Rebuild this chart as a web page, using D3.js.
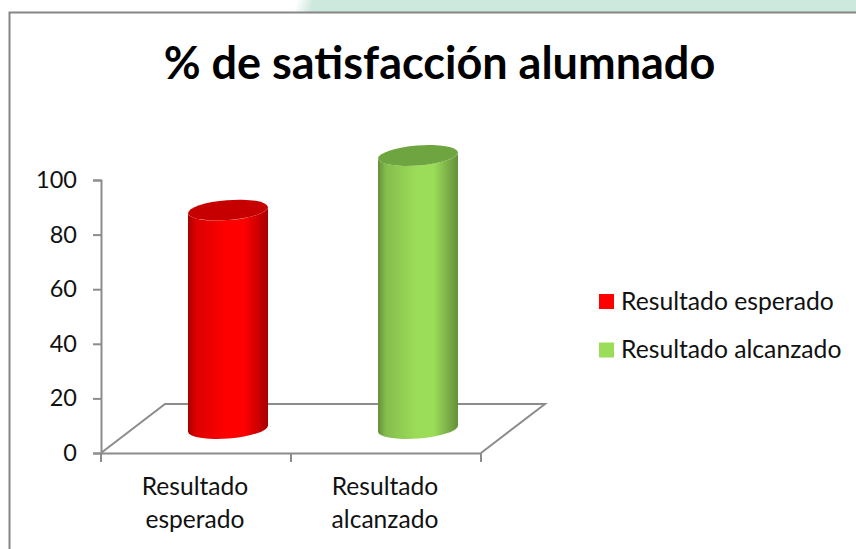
<!DOCTYPE html>
<html>
<head>
<meta charset="utf-8">
<style>
html, body { margin: 0; padding: 0; background: #fff; }
svg { display: block; }
text { font-family: Lato, "Open Sans", sans-serif; fill: #111; }
</style>
<script src="https://cdn.jsdelivr.net/npm/d3@7/dist/d3.min.js"></script>
</head>
<body>
<div id="chart"></div>
<script>
const chartTitle = '% de satisfacción alumnado';
const categories = ['Resultado esperado', 'Resultado alcanzado'];
const values = [80, 100];
const yTicks = [0, 20, 40, 60, 80, 100];
const barColors = ['#ff0000', '#9bdc58'];
const barEdges = ['#a80000', '#658f3a'];
const barTops = ['#c60000', '#6ea540'];

const width = 856;
const height = 549;

const svg = d3.select('#chart').append('svg')
    .attr('width', width)
    .attr('height', height);

const defs = svg.append('defs');
barColors.forEach((color, i) => {
    const grad = defs.append('linearGradient').attr('id', `body${i}`);
    grad.append('stop').attr('offset', '0%').attr('stop-color', barEdges[i]);
    grad.append('stop').attr('offset', '10%').attr('stop-color', d3.interpolateRgb(barEdges[i], color)(0.6));
    grad.append('stop').attr('offset', '48%').attr('stop-color', color);
    grad.append('stop').attr('offset', '70%').attr('stop-color', color);
    grad.append('stop').attr('offset', '100%').attr('stop-color', barEdges[i]);
});
const bgGrad = defs.append('linearGradient')
    .attr('id', 'bgStrip')
    .attr('gradientUnits', 'userSpaceOnUse')
    .attr('x1', 296).attr('y1', 3)
    .attr('x2', 312).attr('y2', 8);
bgGrad.append('stop').attr('offset', '0%').attr('stop-color', '#ffffff');
bgGrad.append('stop').attr('offset', '100%').attr('stop-color', '#cde8dc');

// page background strip behind the chart
svg.append('rect')
    .attr('x', 0).attr('y', 0)
    .attr('width', width).attr('height', 13)
    .attr('fill', 'url(#bgStrip)');

// chart frame, open past the window edges
svg.append('rect')
    .attr('x', 9.5).attr('y', 12.5)
    .attr('width', 860).attr('height', 550)
    .attr('fill', '#fff')
    .attr('stroke', '#868686')
    .attr('stroke-width', 2);

svg.append('text')
    .attr('x', 439.5)
    .attr('y', 79)
    .attr('text-anchor', 'middle')
    .style('font-size', '45px')
    .style('font-weight', 'bold')
    .style('fill', '#000')
    .text(chartTitle);

const x = d3.scaleBand().domain(categories).range([101, 481]);
const y = d3.scaleLinear().domain([0, 100]).range([453, 180]);

// floor depth of the 3D plot
const depthX = 64;
const depthY = -49;
const axisColor = '#8c8c8c';

svg.append('path')
    .attr('d', `M${x.range()[0]},${y(0)} l${depthX},${depthY} H${x.range()[1] + depthX} L${x.range()[1]},${y(0)}`)
    .attr('fill', 'none')
    .attr('stroke', axisColor)
    .attr('stroke-width', 2);

const yAxis = svg.append('g')
    .attr('transform', `translate(${x.range()[0]},0)`)
    .call(d3.axisLeft(y).tickValues(yTicks).tickSize(8).tickPadding(16).tickFormat(d3.format('d')));

const xAxis = svg.append('g')
    .attr('transform', `translate(0,${y(0)})`)
    .call(d3.axisBottom(x).tickSize(0).tickFormat(''));

xAxis.selectAll('.tick').remove();
xAxis.selectAll('.cat-tick')
    .data(d3.range(categories.length + 1))
    .enter().append('line')
    .attr('x1', i => x.range()[0] + i * x.step())
    .attr('x2', i => x.range()[0] + i * x.step())
    .attr('y1', 0)
    .attr('y2', 9);

[yAxis, xAxis].forEach(g => {
    g.selectAll('path, line').attr('stroke', axisColor).attr('stroke-width', 2);
});
yAxis.selectAll('text').style('font-family', 'Lato').style('font-size', '23.5px').style('fill', '#111');

// category labels broken in two lines
categories.forEach(cat => {
    const label = svg.append('text')
        .attr('text-anchor', 'middle')
        .style('font-size', '24.6px');
    cat.split(' ').forEach((word, j) => {
        label.append('tspan')
            .attr('x', x(cat) + x.bandwidth() / 2 - 1)
            .attr('y', 495 + j * 33)
            .text(word);
    });
});

// cylinders
const barWidth = 80;
const rx = barWidth / 2;
const ry = 10;
const tilt = -4.5;

categories.forEach((cat, i) => {
    const cx = x(cat) + x.bandwidth() / 2 + depthX / 2;
    const offset = depthY / 2;
    const yBase = y(0) + offset;
    const yTop = y(values[i]) + offset;
    const tiltDy = rx * Math.tan(-tilt * Math.PI / 180);

    svg.append('path')
        .attr('d', `M${cx - rx},${yTop + tiltDy} V${yBase + tiltDy}`
            + ` A${rx},${ry} ${tilt} 0 0 ${cx + rx},${yBase - tiltDy}`
            + ` V${yTop - tiltDy}`
            + ` A${rx},${ry} ${tilt} 0 1 ${cx - rx},${yTop + tiltDy} Z`)
        .attr('fill', `url(#body${i})`);

    svg.append('ellipse')
        .attr('cx', 0).attr('cy', 0)
        .attr('rx', rx).attr('ry', ry)
        .attr('transform', `translate(${cx},${yTop}) rotate(${tilt})`)
        .attr('fill', barTops[i]);
});

// legend
const legendY = d3.scalePoint().domain(categories).range([301.5, 350]);
categories.forEach((cat, i) => {
    svg.append('rect')
        .attr('x', 599)
        .attr('y', legendY(cat) - 7.5)
        .attr('width', 15)
        .attr('height', 15)
        .attr('fill', barColors[i]);
    svg.append('text')
        .attr('x', 621)
        .attr('y', legendY(cat) + 8)
        .style('font-size', '24.7px')
        .text(cat);
});
</script>
</body>
</html>
